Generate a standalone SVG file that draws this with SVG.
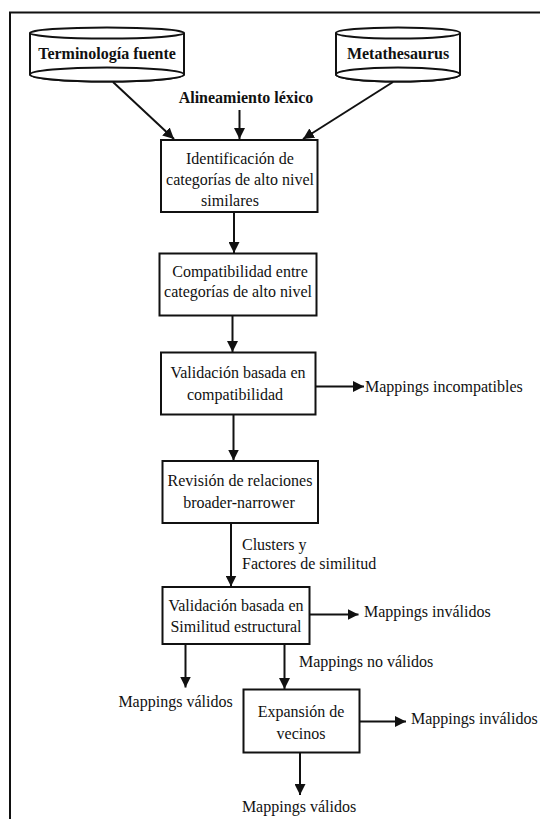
<svg xmlns="http://www.w3.org/2000/svg" width="540" height="819" viewBox="0 0 540 819">
  <style>
    text { font-family: "Liberation Serif", "Times New Roman", serif; font-size: 16px; fill: #111; }
    .b { font-weight: bold; }
    .c { text-anchor: middle; }
    .box { fill: #fff; stroke: #111; stroke-width: 2; }
    .cyl { fill: #fff; stroke: #111; stroke-width: 2; }
    .edge { fill: none; stroke: #111; stroke-width: 2; marker-end: url(#ah); }
    .frame { fill: none; stroke: #111; stroke-width: 2; }
  </style>
  <defs>
    <marker id="ah" viewBox="0 0 11 11" refX="11" refY="5.5" markerWidth="11" markerHeight="11" markerUnits="userSpaceOnUse" orient="auto">
      <path d="M0,0 L11,5.5 L0,11 z" fill="#111"/>
    </marker>
  </defs>
  <rect width="540" height="819" fill="#fff"/>

  <!-- open frame: top and left edges only -->
  <path class="frame" d="M10,819 V12.5 H540"/>

  <!-- sources -->
  <g id="terminologia">
    <path class="cyl" d="M30,33 V74.5 A77,7 0 0 0 184,74.5 V33"/>
    <ellipse class="cyl" cx="107" cy="74.5" rx="77" ry="7" fill="none"/>
    <ellipse class="cyl" cx="107" cy="33" rx="77" ry="5.5"/>
    <text class="b c" x="107" y="59">Terminología fuente</text>
  </g>
  <g id="metathesaurus">
    <path class="cyl" d="M336,33 V74.5 A62,7 0 0 0 460,74.5 V33"/>
    <ellipse class="cyl" cx="398" cy="74.5" rx="62" ry="7" fill="none"/>
    <ellipse class="cyl" cx="398" cy="33" rx="62" ry="5.5"/>
    <text class="b c" x="398" y="59">Metathesaurus</text>
  </g>

  <!-- process steps -->
  <g id="identificacion">
    <rect class="box" x="161" y="140" width="156.5" height="72"/>
    <text class="c" x="240" y="164">Identificación de</text>
    <text class="c" x="240" y="185">categorías de alto nivel</text>
    <text class="c" x="230" y="205.5">similares</text>
  </g>
  <g id="compatibilidad">
    <rect class="box" x="159.5" y="253.5" width="157" height="62"/>
    <text class="c" x="240" y="277">Compatibilidad entre</text>
    <text class="c" x="238" y="297">categorías de alto nivel</text>
  </g>
  <g id="validacion-compat">
    <rect class="box" x="161" y="352.5" width="154.5" height="62"/>
    <text class="c" x="238" y="377.5">Validación basada en</text>
    <text class="c" x="235" y="399.5">compatibilidad</text>
  </g>
  <g id="revision">
    <rect class="box" x="162.5" y="461" width="155.5" height="62"/>
    <text class="c" x="240" y="486">Revisión de relaciones</text>
    <text class="c" x="239" y="507.5">broader-narrower</text>
  </g>
  <g id="validacion-similitud">
    <rect class="box" x="162.5" y="587" width="147" height="57"/>
    <text class="c" x="236" y="610.5">Validación basada en</text>
    <text class="c" x="236" y="632">Similitud estructural</text>
  </g>
  <g id="expansion">
    <rect class="box" x="243.5" y="689.5" width="116" height="63"/>
    <text class="c" x="301" y="717">Expansión de</text>
    <text class="c" x="301" y="738.5">vecinos</text>
  </g>

  <!-- labels -->
  <g id="labels">
    <text class="b c" x="246" y="102.5">Alineamiento léxico</text>
    <text x="365" y="392">Mappings incompatibles</text>
    <text x="242" y="550">Clusters y</text>
    <text x="242" y="568.5">Factores de similitud</text>
    <text x="364" y="617">Mappings inválidos</text>
    <text x="299" y="667">Mappings no válidos</text>
    <text class="c" x="175.5" y="707">Mappings válidos</text>
    <text x="411" y="723.5">Mappings inválidos</text>
    <text class="c" x="299" y="812">Mappings válidos</text>
  </g>

  <!-- connectors -->
  <g id="connectors">
    <line class="edge" x1="113" y1="82" x2="174" y2="139"/>
    <line class="edge" x1="239.5" y1="110" x2="239.5" y2="139"/>
    <line class="edge" x1="393" y1="82" x2="303" y2="139"/>
    <line class="edge" x1="234" y1="212" x2="234" y2="253"/>
    <line class="edge" x1="232.5" y1="315.5" x2="232.5" y2="352"/>
    <line class="edge" x1="315.5" y1="386.5" x2="364" y2="386.5"/>
    <line class="edge" x1="233.5" y1="414.5" x2="233.5" y2="460.5"/>
    <line class="edge" x1="231" y1="523" x2="231" y2="586.5"/>
    <line class="edge" x1="309.5" y1="614.5" x2="358.5" y2="614.5"/>
    <line class="edge" x1="185.5" y1="644" x2="185.5" y2="687.5"/>
    <line class="edge" x1="284.5" y1="644" x2="284.5" y2="689"/>
    <line class="edge" x1="359.5" y1="721.5" x2="406" y2="721.5"/>
    <line class="edge" x1="300" y1="752.5" x2="300" y2="795"/>
  </g>
</svg>
